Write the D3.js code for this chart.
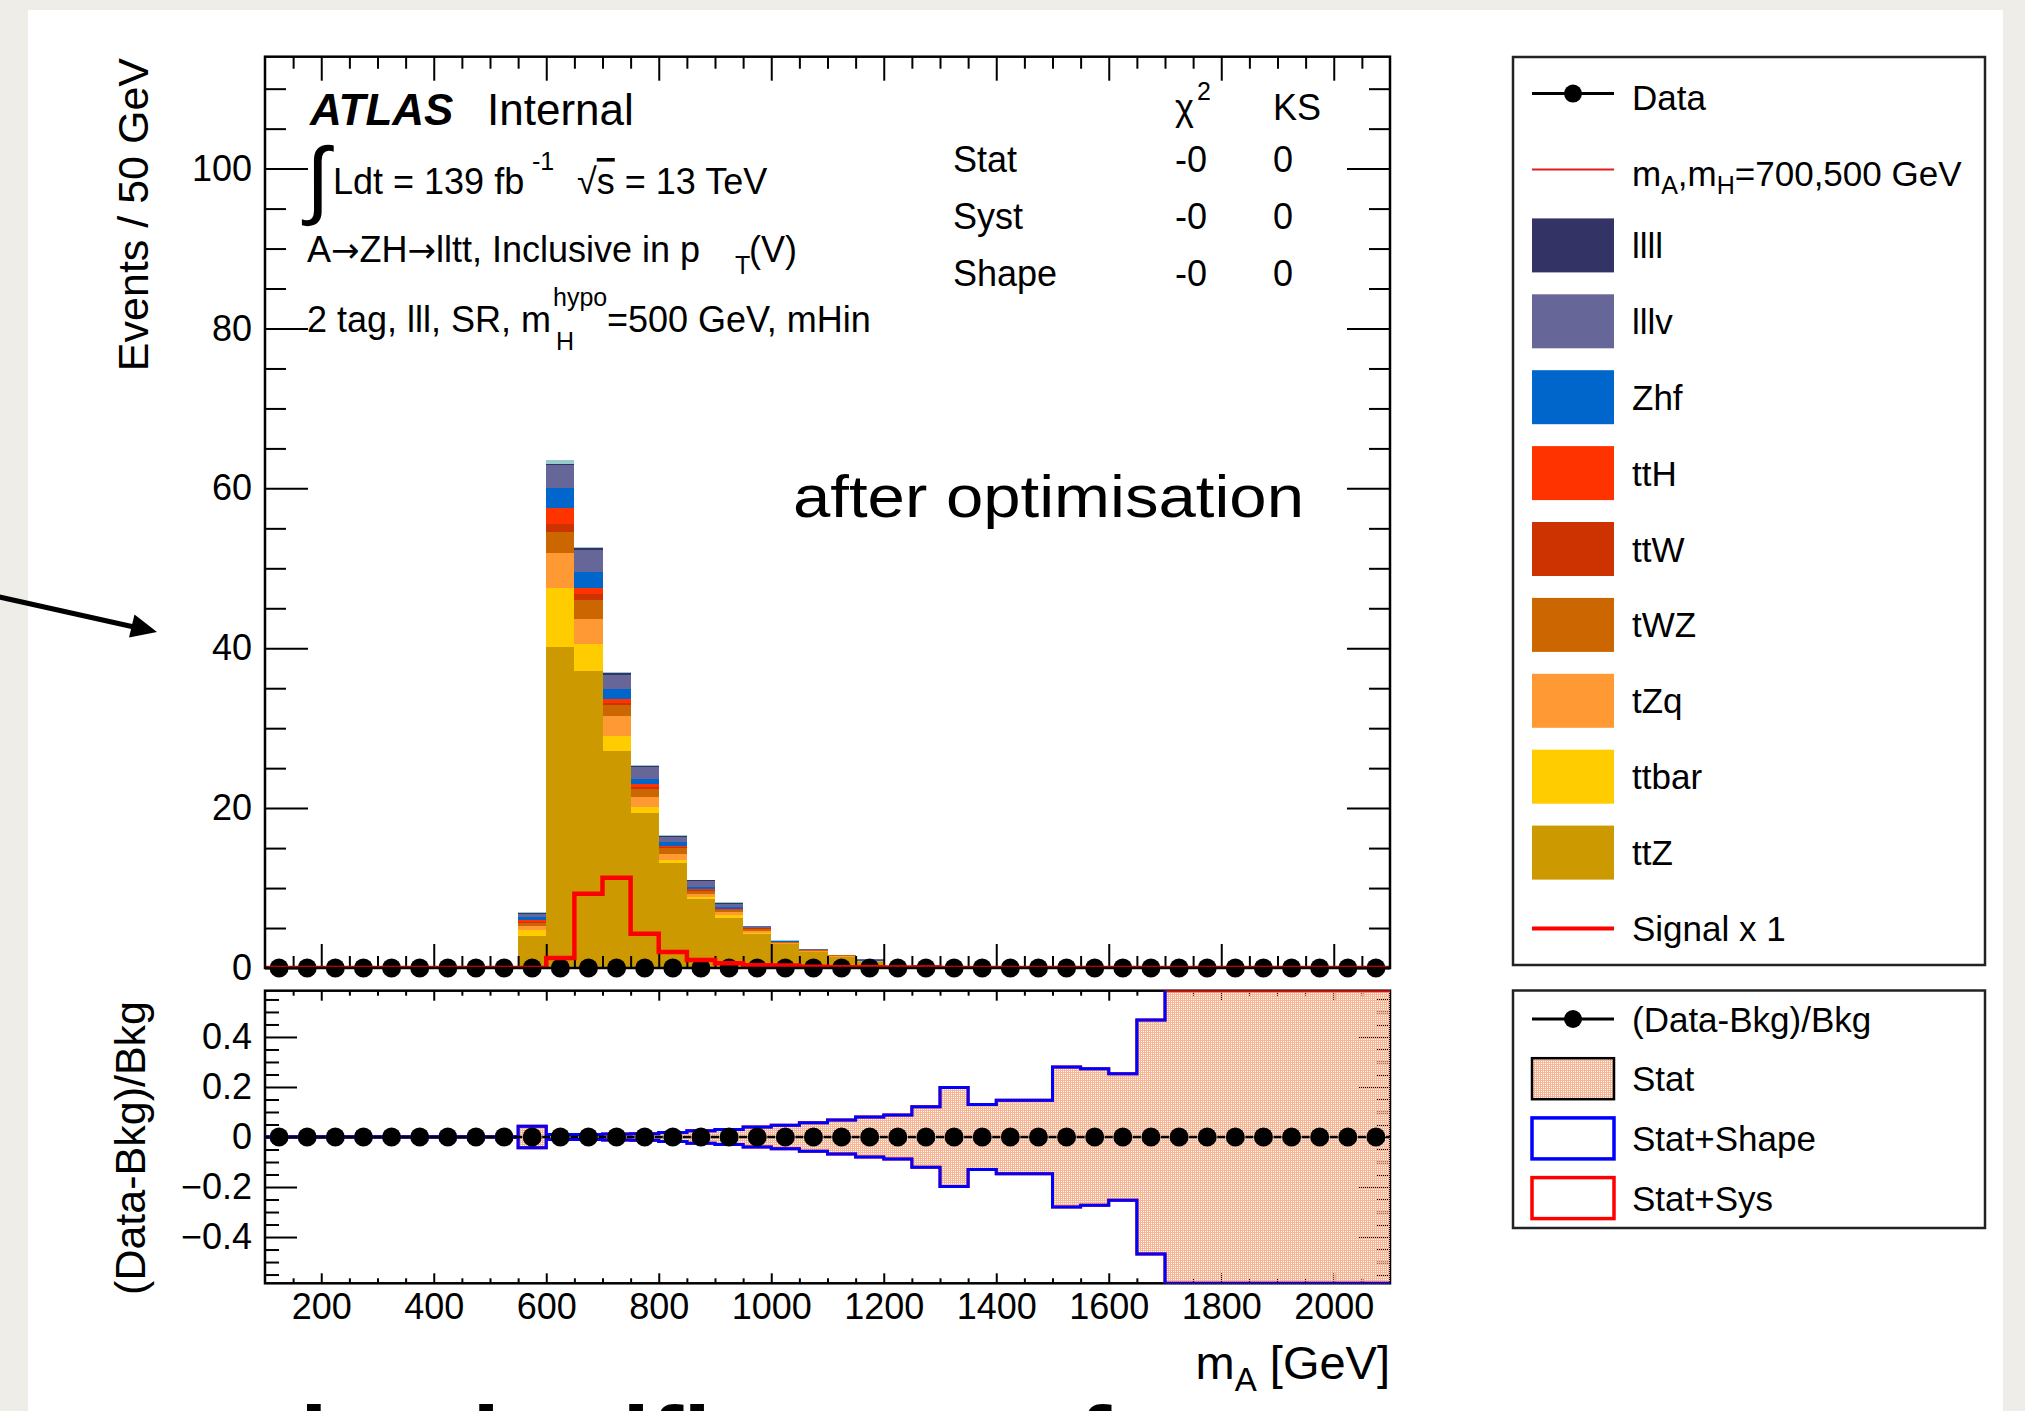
<!DOCTYPE html>
<html><head><meta charset="utf-8">
<script src="https://cdn.jsdelivr.net/npm/d3@7"></script>
<style>
html,body{margin:0;padding:0;background:#eeede8;overflow:hidden}
svg{display:block}
text{font-family:"Liberation Sans",Arial,Helvetica,sans-serif;fill:#000}
</style></head><body>
<svg id="c" width="2025" height="1411"></svg>
<script>
// ---------------- DATA ----------------
const binLow = [100,150,200,250,300,350,400,450,500,550,600,650,700,750,800,850,900,950,1000,1050,1100,1150,1200,1250,1300,1350,1400,1450,1500,1550,1600,1650,1700,1750,1800,1850,1900,1950,2000,2050];
const binWidth = 50;
const ttZ   = [0,0,0,0,0,0,0,0,0, 4.0,40.2,37.1,27.2,19.4,13.1,8.65,6.3,4.3,3.0,2.0,1.4,0.8,0.25,0.15,0.05, 0,0,0,0,0,0,0,0,0,0,0,0,0,0,0];
const ttbar = [0,0,0,0,0,0,0,0,0, 0.8,7.3,3.4,1.8,0.8,0.4,0.2,0.3,0.1,0.05,0.03,0,0,0,0,0, 0,0,0,0,0,0,0,0,0,0,0,0,0,0,0];
const tZq   = [0,0,0,0,0,0,0,0,0, 0.5,4.4,3.1,2.5,1.2,0.7,0.35,0.4,0.2,0.1,0.1,0.1,0.05,0,0,0, 0,0,0,0,0,0,0,0,0,0,0,0,0,0,0];
const tWZ   = [0,0,0,0,0,0,0,0,0, 0.35,2.7,2.4,1.4,1.0,0.8,0.45,0.25,0.3,0.1,0.1,0.1,0.05,0,0,0, 0,0,0,0,0,0,0,0,0,0,0,0,0,0,0];
const ttW   = [0,0,0,0,0,0,0,0,0, 0.15,1.0,0.8,0.3,0.3,0.15,0.1,0.05,0.05,0,0,0,0,0,0,0, 0,0,0,0,0,0,0,0,0,0,0,0,0,0,0];
const ttH   = [0,0,0,0,0,0,0,0,0, 0.2,2.0,0.7,0.4,0.3,0.15,0.1,0.05,0.05,0,0,0,0,0,0,0, 0,0,0,0,0,0,0,0,0,0,0,0,0,0,0];
const Zhf   = [0,0,0,0,0,0,0,0,0, 0.35,2.4,2.1,1.3,0.7,0.4,0.3,0.3,0.05,0.1,0.05,0,0.1,0.05,0.25,0, 0,0,0,0,0,0,0,0,0,0,0,0,0,0,0];
const lllv  = [0,0,0,0,0,0,0,0,0, 0.4,2.9,2.7,1.8,1.4,0.7,0.7,0.4,0.15,0.05,0.1,0,0.1,0,0,0, 0,0,0,0,0,0,0,0,0,0,0,0,0,0,0];
const llll  = [0,0,0,0,0,0,0,0,0, 0.1,0.2,0.3,0.2,0.2,0.1,0.1,0.1,0.05,0,0.05,0,0,0,0,0, 0,0,0,0,0,0,0,0,0,0,0,0,0,0,0];
const other = [0,0,0,0,0,0,0,0,0, 0.1,0.5,0.1,0.1,0.1,0.1,0.05,0.05,0,0.05,0,0,0,0,0,0, 0,0,0,0,0,0,0,0,0,0,0,0,0,0,0];
const signal = [0,0,0,0,0,0,0,0,0,0, 1.25,9.3,11.3,4.3,2.0,1.0,0.6,0.35,0.3,0.15,0.1,0.1,0.05,0.05, 0,0,0,0,0,0,0,0,0,0,0,0,0,0,0,0];
const dataVals  = [0,0,0,0,0,0,0,0,0,0,0,0,0,0,0,0,0,0,0,0,0,0,0,0,0,0,0,0,0,0,0,0,0,0,0,0,0,0,0,0];
const ratioVals = [0,0,0,0,0,0,0,0,0,0,0,0,0,0,0,0,0,0,0,0,0,0,0,0,0,0,0,0,0,0,0,0,0,0,0,0,0,0,0,0];
const relErrStat      = [0,0,0,0,0,0,0,0,0, 0.043,0.01,0.01,0.012,0.013,0.018,0.025,0.03,0.04,0.047,0.057,0.068,0.08,0.088,0.121,0.198,0.13,0.147,0.147,0.28,0.273,0.253,0.468, 1,1,1,1,1,1,1,1];
const relErrStatShape = [0,0,0,0,0,0,0,0,0, 0.043,0.01,0.01,0.012,0.013,0.018,0.025,0.03,0.04,0.047,0.057,0.068,0.08,0.088,0.121,0.198,0.13,0.147,0.147,0.28,0.273,0.253,0.468, 1,1,1,1,1,1,1,1];
const relErrStatSys   = [0,0,0,0,0,0,0,0,0, 0.043,0.01,0.01,0.012,0.013,0.018,0.025,0.03,0.04,0.047,0.057,0.068,0.08,0.088,0.121,0.198,0.13,0.147,0.147,0.28,0.273,0.253,0.468, 1,1,1,1,1,1,1,1];

const stackKeys   = ["ttZ","ttbar","tZq","tWZ","ttW","ttH","Zhf","lllv","llll","other"];
const stackSeries = [ttZ, ttbar, tZq, tWZ, ttW, ttH, Zhf, lllv, llll, other];
const stackColors = ["#cc9900","#ffcc00","#ff9933","#cc6600","#cc3300","#ff3300","#0066cc","#666699","#333366","#99cccc"];
const legendBkgOrder = ["llll","lllv","Zhf","ttH","ttW","tWZ","tZq","ttbar","ttZ"];

const xTicks = [200,400,600,800,1000,1200,1400,1600,1800,2000];
const yTicks = [0,20,40,60,80,100];
const rTicks = [-0.4,-0.2,0,0.2,0.4];
const statRows = [["Stat","-0","0"],["Syst","-0","0"],["Shape","-0","0"]];

// ---------------- LAYOUT ----------------
const W=2025, H=1411;
const X0=265, X1=1390;
const UT=56.7, UB=968;
const RT=990.7, RB=1283.3;

const x = d3.scaleLinear().domain([100,2100]).range([X0,X1]);
const y = d3.scaleLinear().domain([0,114]).range([UB,UT]);
const r = d3.scaleLinear().domain([-0.585,0.585]).range([RB,RT]);

const svg = d3.select('#c');
const defs = svg.append('defs');
const pat = defs.append('pattern').attr('id','hatch').attr('patternUnits','userSpaceOnUse').attr('width',2).attr('height',2);
[[0,0],[1,0],[0,1]].forEach(([a,b])=>pat.append('rect').attr('x',a).attr('y',b).attr('width',1).attr('height',1).attr('fill','#f7b593'));
defs.append('clipPath').attr('id','clipU').append('rect').attr('x',X0).attr('y',UT).attr('width',X1-X0).attr('height',UB-UT);
defs.append('clipPath').attr('id','clipR').append('rect').attr('x',X0).attr('y',RT).attr('width',X1-X0).attr('height',RB-RT);

// slide background
svg.append('rect').attr('width',W).attr('height',H).attr('fill','#eeede8');
svg.append('rect').attr('x',28).attr('y',10).attr('width',1975).attr('height',H).attr('fill','#ffffff');

// arrow
svg.append('line').attr('x1',-5).attr('y1',596).attr('x2',134).attr('y2',627).attr('stroke','#000').attr('stroke-width',5);
svg.append('path').attr('d','M157,632 L129,637.5 L134.5,614.5 Z').attr('fill','#000');

// ---------- upper pad ----------
const rows = binLow.map((b,i)=>{const o={b}; stackKeys.forEach((k,j)=>o[k]=stackSeries[j][i]); return o;});
const stacked = d3.stack().keys(stackKeys)(rows);
const gU = svg.append('g');
gU.append('rect').attr('x',X0).attr('y',UT).attr('width',X1-X0).attr('height',UB-UT).attr('fill','#fff');
const gBars = gU.append('g').attr('clip-path','url(#clipU)').attr('shape-rendering','crispEdges');
stacked.forEach((layer,li)=>{
  gBars.selectAll(null).data(layer.filter(d=>d[1]-d[0]>0)).enter().append('rect')
    .attr('x',d=>x(d.data.b)).attr('width',d=>x(d.data.b+binWidth)-x(d.data.b))
    .attr('y',d=>y(d[1])).attr('height',d=>y(d[0])-y(d[1]))
    .attr('fill',stackColors[li]);
});

function axisStyle(g){ g.select('.domain').remove(); g.selectAll('line').attr('stroke','#000').attr('stroke-width',2); g.selectAll('text').attr('font-family','"Liberation Sans",Arial,sans-serif').attr('font-size',36); }
const xMinor = d3.range(150,2100,50).filter(v=>v%200!==0);
const yMinor = d3.range(5,114,5).filter(v=>v%20!==0);
const rMinor = d3.range(-11,12).map(v=>v*0.05).filter(v=>Math.abs(Math.round(v*100))%20!==0);

gU.append('g').attr('transform',`translate(${X0},0)`).call(d3.axisLeft(y).tickValues(yTicks).tickSize(-43).tickPadding(13).tickFormat(d3.format('d'))).call(axisStyle);
gU.append('g').attr('transform',`translate(${X0},0)`).call(d3.axisLeft(y).tickValues(yMinor).tickSize(-21).tickFormat('')).call(axisStyle);
gU.append('g').attr('transform',`translate(${X1},0)`).call(d3.axisRight(y).tickValues(yTicks).tickSize(-43).tickFormat('')).call(axisStyle);
gU.append('g').attr('transform',`translate(${X1},0)`).call(d3.axisRight(y).tickValues(yMinor).tickSize(-21).tickFormat('')).call(axisStyle);
gU.append('g').attr('transform',`translate(0,${UT})`).call(d3.axisTop(x).tickValues(xTicks).tickSize(-24).tickFormat('')).call(axisStyle);
gU.append('g').attr('transform',`translate(0,${UT})`).call(d3.axisTop(x).tickValues(xMinor).tickSize(-12).tickFormat('')).call(axisStyle);
gU.append('g').attr('transform',`translate(0,${UB})`).call(d3.axisBottom(x).tickValues(xTicks).tickSize(-24).tickFormat('')).call(axisStyle);
gU.append('g').attr('transform',`translate(0,${UB})`).call(d3.axisBottom(x).tickValues(xMinor).tickSize(-12).tickFormat('')).call(axisStyle);

// data markers
gU.selectAll('circle.d').data(binLow).enter().append('circle')
  .attr('cx',(b)=>x(b+binWidth/2)).attr('cy',(b,i)=>y(dataVals[i])).attr('r',9.5).attr('fill','#000');
// signal step line
const sigPts = binLow.map((b,i)=>[b,signal[i]]).concat([[2100,signal[signal.length-1]]]);
gU.append('path').attr('clip-path','url(#clipU)').attr('d',d3.line().x(d=>x(d[0])).y(d=>y(d[1])).curve(d3.curveStepAfter)(sigPts))
  .attr('fill','none').attr('stroke','#ff0000').attr('stroke-width',4.5);
gU.append('rect').attr('x',X0).attr('y',UT).attr('width',X1-X0).attr('height',UB-UT).attr('fill','none').attr('stroke','#000').attr('stroke-width',2.5);

// ---------- ratio pad ----------
const gR = svg.append('g');
gR.append('rect').attr('x',X0).attr('y',RT).attr('width',X1-X0).attr('height',RB-RT).attr('fill','#fff');
gR.append('g').attr('transform',`translate(${X0},0)`).call(d3.axisLeft(r).tickValues(rTicks).tickSize(-32).tickPadding(13).tickFormat(v=>v===0?'0':(v<0?'\u2212':'')+Math.abs(v).toFixed(1))).call(axisStyle);
gR.append('g').attr('transform',`translate(${X0},0)`).call(d3.axisLeft(r).tickValues(rMinor).tickSize(-14).tickFormat('')).call(axisStyle);
gR.append('g').attr('transform',`translate(${X1},0)`).call(d3.axisRight(r).tickValues(rTicks).tickSize(-32).tickFormat('')).call(axisStyle);
gR.append('g').attr('transform',`translate(${X1},0)`).call(d3.axisRight(r).tickValues(rMinor).tickSize(-14).tickFormat('')).call(axisStyle);
gR.append('g').attr('transform',`translate(0,${RT})`).call(d3.axisTop(x).tickValues(xTicks).tickSize(-10).tickFormat('')).call(axisStyle);
gR.append('g').attr('transform',`translate(0,${RT})`).call(d3.axisTop(x).tickValues(xMinor).tickSize(-5).tickFormat('')).call(axisStyle);
gR.append('g').attr('transform',`translate(0,${RB})`).call(d3.axisBottom(x).tickValues(xTicks).tickSize(-10).tickPadding(10).tickFormat(d3.format('d'))).call(axisStyle);
gR.append('g').attr('transform',`translate(0,${RB})`).call(d3.axisBottom(x).tickValues(xMinor).tickSize(-5).tickFormat('')).call(axisStyle);
gR.append('rect').attr('x',X0).attr('y',RT).attr('width',X1-X0).attr('height',RB-RT).attr('fill','none').attr('stroke','#000').attr('stroke-width',2.5);

const clampR = v=>Math.max(-0.585,Math.min(0.585,v));
const bandPts = (arr)=>binLow.map((b,i)=>[b,arr[i]]).concat([[2100,arr[arr.length-1]]]);
const gBand = gR.append('g').attr('clip-path','url(#clipR)');
gBand.append('path').attr('d',d3.area().x(d=>x(d[0])).y0(d=>r(-d[1])).y1(d=>r(d[1])).curve(d3.curveStepAfter)(bandPts(relErrStat))).attr('fill','url(#hatch)');
const stepLine = d3.line().x(d=>x(d[0])).y(d=>r(d[1])).curve(d3.curveStepAfter);
gBand.append('path').attr('d',stepLine(bandPts(relErrStatSys).map(d=>[d[0],clampR(d[1])]))).attr('fill','none').attr('stroke','#ff0000').attr('stroke-width',3);
gBand.append('path').attr('d',stepLine(bandPts(relErrStatSys).map(d=>[d[0],clampR(-d[1])]))).attr('fill','none').attr('stroke','#ff0000').attr('stroke-width',3);
gBand.append('path').attr('d',stepLine(bandPts(relErrStatShape).map(d=>[d[0],d[1]]))).attr('fill','none').attr('stroke','#0000ff').attr('stroke-width',3);
gBand.append('path').attr('d',stepLine(bandPts(relErrStatShape).map(d=>[d[0],clampR(-d[1]) ]))).attr('fill','none').attr('stroke','#0000ff').attr('stroke-width',3);
gR.append('line').attr('x1',X0).attr('x2',X1).attr('y1',r(0)).attr('y2',r(0)).attr('stroke','#000').attr('stroke-width',2.5)
  .attr('stroke-dasharray','8 20.125').attr('stroke-dashoffset',4);
gR.selectAll('circle.r').data(binLow).enter().append('circle')
  .attr('cx',b=>x(b+binWidth/2)).attr('cy',(b,i)=>r(ratioVals[i])).attr('r',9.5).attr('fill','#000');

// ---------- axis titles ----------
svg.append('text').attr('transform','translate(148,58) rotate(-90)').attr('text-anchor','end').attr('font-size',43).text('Events / 50 GeV');
svg.append('text').attr('transform','translate(145,1001) rotate(-90)').attr('text-anchor','end').attr('font-size',43).text('(Data-Bkg)/Bkg');
const xt = svg.append('text').attr('x',X1).attr('y',1379).attr('text-anchor','end').attr('font-size',47);
xt.append('tspan').text('m');
xt.append('tspan').attr('font-size',33).attr('dy',12).text('A');
xt.append('tspan').attr('dy',-12).text(' [GeV]');

// ---------- labels in upper pad ----------
function T(xp,yp,size,str,extra){const t=svg.append('text').attr('x',xp).attr('y',yp).attr('font-size',size).text(str); if(extra) extra(t); return t;}
T(310,125,44,'ATLAS',t=>t.attr('font-weight','bold').attr('font-style','italic'));
T(487,125,44,'Internal');
T(306,208,86,'\u222B',t=>t.attr('font-family','"DejaVu Sans",sans-serif'));
T(333,194,36,'Ldt = 139 fb');
T(532,170,25,'-1');
const sq = T(577,194,36,'\u221A');
sq.append('tspan').attr('style','text-decoration:overline').text('s');
sq.append('tspan').text(' = 13 TeV');
const l3 = T(307,262,36,'A');
l3.append('tspan').attr('font-family','"DejaVu Sans",sans-serif').attr('font-size',34).text('\u2192');
l3.append('tspan').text('ZH');
l3.append('tspan').attr('font-family','"DejaVu Sans",sans-serif').attr('font-size',34).text('\u2192');
l3.append('tspan').text('lltt, Inclusive in p');
T(735,274,25,'T');
T(749,262,36,'(V)');
T(307,332,36,'2 tag, lll, SR, m');
T(553,306,25,'hypo');
T(556,350,25,'H');
T(607,332,36,'=500 GeV, mHin');
T(1175,120,36,'\u03C7');
T(1197,100,25,'2');
T(1273,120,36,'KS');
statRows.forEach((row,i)=>{
  const yy = 172 + i*57;
  T(953,yy,36,row[0]); T(1175,yy,36,row[1]); T(1273,yy,36,row[2]);
});
T(793,517,60,'after optimisation',t=>t.attr('font-family','Lato,"Noto Sans",sans-serif').attr('textLength',511).attr('lengthAdjust','spacingAndGlyphs'));

// ---------- legend 1 ----------
const LX0=1513, LX1=1985;
svg.append('rect').attr('x',LX0).attr('y',57).attr('width',LX1-LX0).attr('height',965-57).attr('fill','#fff').attr('stroke','#222').attr('stroke-width',2.5);
const sw0=1532, sw1=1614, tx=1632;
const leg1 = [{type:'data',label:'Data'},{type:'thin',label:'mAmH'}]
  .concat(legendBkgOrder.map(k=>({type:'box',label:k,color:stackColors[stackKeys.indexOf(k)]})))
  .concat([{type:'sig',label:'Signal x 1'}]);
leg1.forEach((e,i)=>{
  const cy = 93.6 + i*75.9;
  if(e.type==='data'){
    svg.append('line').attr('x1',sw0).attr('x2',sw1).attr('y1',cy).attr('y2',cy).attr('stroke','#000').attr('stroke-width',3);
    svg.append('circle').attr('cx',(sw0+sw1)/2).attr('cy',cy).attr('r',9).attr('fill','#000');
  } else if(e.type==='thin'){
    svg.append('line').attr('x1',sw0).attr('x2',sw1).attr('y1',cy).attr('y2',cy).attr('stroke','#e0201c').attr('stroke-width',2);
  } else if(e.type==='sig'){
    svg.append('line').attr('x1',sw0).attr('x2',sw1).attr('y1',cy).attr('y2',cy).attr('stroke','#ff0000').attr('stroke-width',4);
  } else {
    svg.append('rect').attr('x',sw0).attr('y',cy-27).attr('width',sw1-sw0).attr('height',54).attr('fill',e.color);
  }
  const t = svg.append('text').attr('x',tx).attr('y',cy+12.5+(i<2?4:0)).attr('font-size',35);
  if(e.label==='mAmH'){
    t.append('tspan').text('m'); t.append('tspan').attr('font-size',25).attr('dy',8).text('A');
    t.append('tspan').attr('dy',-8).text(',m'); t.append('tspan').attr('font-size',25).attr('dy',8).text('H');
    t.append('tspan').attr('dy',-8).text('=700,500 GeV');
  } else t.text(e.label);
});

// ---------- legend 2 ----------
svg.append('rect').attr('x',LX0).attr('y',990.5).attr('width',LX1-LX0).attr('height',1228-990.5).attr('fill','#fff').attr('stroke','#222').attr('stroke-width',2.5);
const leg2 = [{type:'data',label:'(Data-Bkg)/Bkg'},{type:'stat',label:'Stat'},{type:'blue',label:'Stat+Shape'},{type:'red',label:'Stat+Sys'}];
leg2.forEach((e,i)=>{
  const cy = 1019 + i*59.7;
  if(e.type==='data'){
    svg.append('line').attr('x1',sw0).attr('x2',sw1).attr('y1',cy).attr('y2',cy).attr('stroke','#000').attr('stroke-width',3);
    svg.append('circle').attr('cx',(sw0+sw1)/2).attr('cy',cy).attr('r',9).attr('fill','#000');
  } else if(e.type==='stat'){
    svg.append('rect').attr('x',sw0).attr('y',cy-20.5).attr('width',sw1-sw0).attr('height',41).attr('fill','url(#hatch)').attr('stroke','#000').attr('stroke-width',2.5);
  } else {
    svg.append('rect').attr('x',sw0).attr('y',cy-20.5).attr('width',sw1-sw0).attr('height',41).attr('fill','none').attr('stroke',e.type==='blue'?'#0000ff':'#ff0000').attr('stroke-width',3.5);
  }
  svg.append('text').attr('x',tx).attr('y',cy+12.5).attr('font-size',35).text(e.label);
});

// ---------- slide caption (cut off at bottom) ----------
svg.append('text').attr('x',300).attr('y',1477).attr('font-size',100).attr('font-weight',900)
  .attr('font-family','Lato,"Noto Sans",sans-serif').text('in significance after');
</script>
</body></html>
